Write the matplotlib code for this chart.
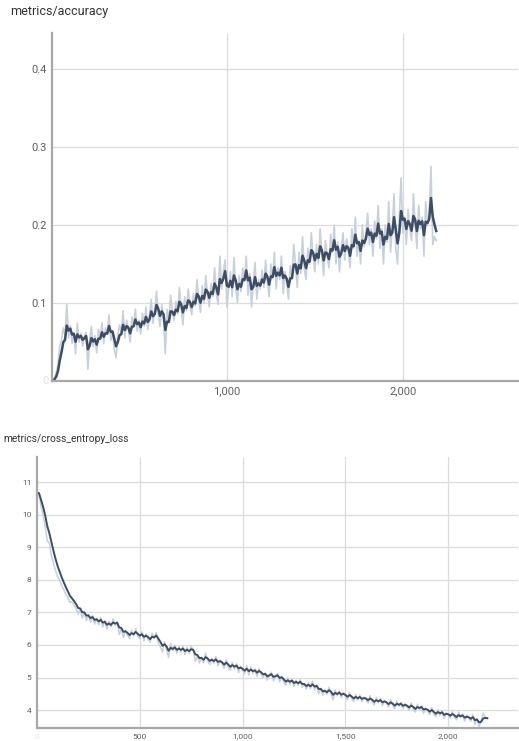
import numpy as np
import matplotlib
matplotlib.use("Agg")
import matplotlib.pyplot as plt
from matplotlib.ticker import FuncFormatter

plt.rcParams['font.family'] = ['Roboto', 'DejaVu Sans']

# logged every 10 steps
steps = np.arange(0, 2200, 10)

accuracy_raw = [
    0.000, 0.000, 0.004, 0.010, 0.022, 0.045, 0.052, 0.068, 0.058, 0.098,
    0.055, 0.071, 0.048, 0.062, 0.035, 0.074, 0.050, 0.061, 0.045, 0.058,
    0.062, 0.015, 0.052, 0.070, 0.044, 0.058, 0.036, 0.066, 0.054, 0.075,
    0.048, 0.068, 0.060, 0.085, 0.052, 0.064, 0.040, 0.030, 0.058, 0.072,
    0.062, 0.090, 0.055, 0.078, 0.066, 0.050, 0.082, 0.071, 0.092, 0.064,
    0.078, 0.060, 0.087, 0.070, 0.095, 0.066, 0.083, 0.105, 0.074, 0.090,
    0.115, 0.085, 0.070, 0.098, 0.080, 0.035, 0.092, 0.075, 0.110, 0.088,
    0.078, 0.102, 0.086, 0.120, 0.094, 0.072, 0.108, 0.090, 0.118, 0.098,
    0.085, 0.112, 0.096, 0.130, 0.104, 0.088, 0.122, 0.100, 0.135, 0.110,
    0.095, 0.125, 0.108, 0.145, 0.112, 0.098, 0.160, 0.118, 0.140, 0.155,
    0.095, 0.118, 0.140, 0.108, 0.158, 0.120, 0.100, 0.135, 0.115, 0.145,
    0.128, 0.160, 0.110, 0.138, 0.095, 0.125, 0.152, 0.105, 0.130, 0.118,
    0.142, 0.120, 0.155, 0.128, 0.108, 0.150, 0.132, 0.165, 0.118, 0.145,
    0.130, 0.160, 0.112, 0.140, 0.125, 0.105, 0.148, 0.132, 0.175, 0.150,
    0.120, 0.165, 0.138, 0.185, 0.145, 0.130, 0.170, 0.150, 0.190, 0.160,
    0.140, 0.175, 0.150, 0.195, 0.160, 0.135, 0.180, 0.162, 0.145, 0.188,
    0.165, 0.200, 0.150, 0.178, 0.140, 0.170, 0.190, 0.155, 0.182, 0.168,
    0.145, 0.195, 0.170, 0.210, 0.160, 0.180, 0.150, 0.200, 0.172, 0.190,
    0.215, 0.175, 0.195, 0.160, 0.205, 0.182, 0.225, 0.170, 0.195, 0.150,
    0.200, 0.178, 0.230, 0.165, 0.195, 0.240, 0.170, 0.150, 0.210, 0.260,
    0.190, 0.210, 0.175, 0.220, 0.195, 0.180, 0.240, 0.200, 0.170, 0.225,
    0.195, 0.210, 0.160, 0.230, 0.200, 0.215, 0.275, 0.175, 0.185, 0.180,
]

loss_raw = [
    10.68, 10.64, 10.25, 9.98, 9.62, 9.20, 9.12, 8.75, 8.50, 8.28,
    8.10, 7.98, 7.82, 7.70, 7.55, 7.45, 7.30, 7.32, 7.22, 7.12,
    6.95, 7.10, 6.82, 7.00, 6.75, 6.92, 6.70, 6.90, 6.64, 6.82,
    6.62, 6.85, 6.55, 6.75, 6.48, 6.72, 6.55, 6.80, 6.60, 6.72,
    6.32, 6.50, 6.22, 6.45, 6.30, 6.20, 6.45, 6.28, 6.50, 6.26,
    6.20, 6.40, 6.12, 6.34, 6.18, 6.08, 6.36, 6.20, 6.38, 6.05,
    5.95, 5.78, 6.10, 5.85, 5.62, 6.05, 5.82, 6.00, 5.74, 5.95,
    5.78, 5.95, 5.70, 5.92, 5.74, 5.96, 5.82, 5.50, 5.66, 5.45,
    5.62, 5.45, 5.75, 5.52, 5.40, 5.60, 5.44, 5.64, 5.36, 5.54,
    5.42, 5.28, 5.55, 5.32, 5.22, 5.46, 5.26, 5.42, 5.15, 5.34,
    5.22, 5.12, 5.36, 5.08, 5.32, 5.12, 5.26, 5.04, 5.28, 5.10,
    5.00, 5.14, 4.92, 5.10, 5.16, 4.90, 5.06, 5.12, 4.86, 5.04,
    4.86, 4.76, 4.98, 4.80, 4.96, 4.72, 4.92, 4.76, 4.94, 4.70,
    4.80, 4.64, 4.84, 4.66, 4.88, 4.62, 4.78, 4.50, 4.66, 4.46,
    4.62, 4.48, 4.70, 4.50, 4.32, 4.62, 4.44, 4.60, 4.38, 4.54,
    4.42, 4.32, 4.54, 4.36, 4.26, 4.48, 4.30, 4.46, 4.26, 4.40,
    4.34, 4.22, 4.44, 4.26, 4.16, 4.38, 4.22, 4.36, 4.14, 4.30,
    4.20, 4.10, 4.32, 4.14, 4.04, 4.28, 4.12, 4.24, 4.04, 4.20,
    4.10, 4.00, 4.22, 4.04, 3.94, 4.18, 4.02, 4.14, 3.90, 4.06,
    3.98, 3.86, 4.08, 3.86, 3.80, 4.02, 3.84, 3.98, 3.74, 3.92,
    3.86, 3.76, 3.96, 3.78, 3.70, 3.94, 3.76, 3.88, 3.66, 3.84,
    3.76, 3.66, 3.86, 3.55, 3.74, 3.50, 3.66, 3.90, 3.78, 3.74,
]

acc_yticks = [0.1, 0.2, 0.3, 0.4]
acc_xticks = [1000, 2000]
loss_yticks = [4, 5, 6, 7, 8, 9, 10, 11]
loss_xticks = [500, 1000, 1500, 2000]

SMOOTHING = 0.6
DARK = '#3d4d65'
LIGHT = '#c7d0dc'
GRID = '#dcdcdc'
SPINE = '#a8a8a8'
TICK = '#5f5f5f'


def smooth(values, weight):
    # tensorboard style debiased EMA
    out = []
    last = 0.0
    for i, v in enumerate(values):
        last = last * weight + (1 - weight) * v
        out.append(last / (1 - weight ** (i + 1)))
    return out


def style_axes(ax, fs):
    for side in ['top', 'right']:
        ax.spines[side].set_visible(False)
    for side in ['left', 'bottom']:
        ax.spines[side].set_color(SPINE)
        ax.spines[side].set_linewidth(1.6)
    ax.grid(True, color=GRID, linewidth=0.9)
    ax.set_axisbelow(True)
    ax.tick_params(length=0, labelsize=fs, labelcolor=TICK, pad=4)
    ax.xaxis.set_major_formatter(FuncFormatter(lambda v, p: f"{int(v):,}"))


fig = plt.figure(figsize=(5.19, 7.41), dpi=100)

# === accuracy ===
ax1 = fig.add_axes([0.1002, 0.4858, 0.898, 0.4697])
ax1.plot(steps, accuracy_raw, color=LIGHT, linewidth=1.2)
ax1.plot(steps, smooth(accuracy_raw, SMOOTHING), color=DARK, linewidth=1.8)
ax1.set_xlim(6, 2655)
ax1.set_ylim(0, 0.446)
ax1.set_xticks(acc_xticks)
ax1.set_yticks(acc_yticks)
ax1.yaxis.set_major_formatter(FuncFormatter(lambda v, p: f"{v:g}"))
style_axes(ax1, 8)
ax1.text(-0.008, 0.0, "0", transform=ax1.transAxes, ha='right', va='center',
         fontsize=8, color='#e2e2e2')
fig.text(10 / 519, 1 - 12 / 741, "metrics/accuracy", fontsize=9,
         color='#333333', va='center', ha='left')

# === cross entropy loss ===
ax2 = fig.add_axes([0.0713, 0.01754, 0.927, 0.3658])
ax2.plot(steps, loss_raw, color=LIGHT, linewidth=1.1)
ax2.plot(steps, smooth(loss_raw, SMOOTHING), color=DARK, linewidth=1.4)
ax2.set_xlim(0, 2340)
ax2.set_ylim(3.45, 11.77)
ax2.set_xticks(loss_xticks)
ax2.set_yticks(loss_yticks)
style_axes(ax2, 6)
ax2.text(0.0, -0.035, "0", transform=ax2.transAxes, ha='center', va='center',
         fontsize=6, color='#e6e6e6')
fig.text(3 / 519, 1 - 439 / 741, "metrics/cross_entropy_loss", fontsize=7.3,
         color='#333333', va='center', ha='left')

fig.savefig("out.png", dpi=100)
